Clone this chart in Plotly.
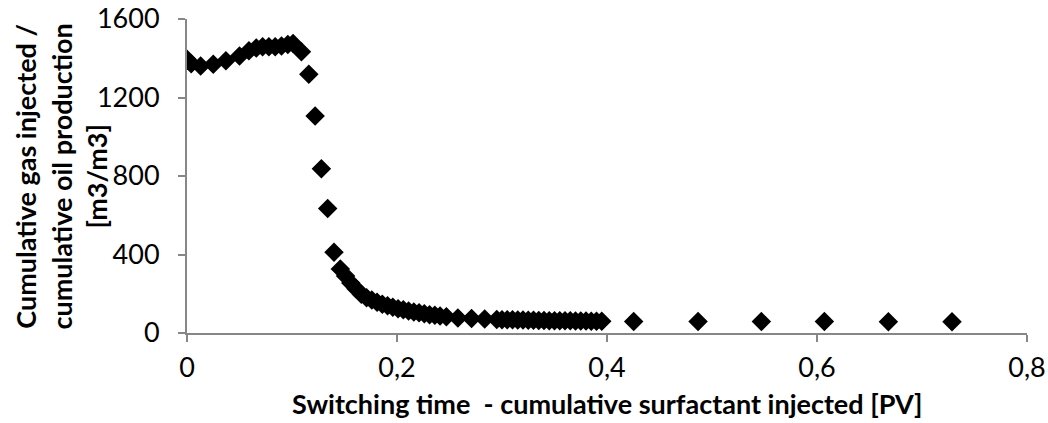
import plotly.graph_objects as go

# Switching time - cumulative surfactant injected [PV]
switch_time = [
    0.000, 0.004, 0.013, 0.025, 0.037, 0.050, 0.059, 0.066, 0.072, 0.078,
    0.084, 0.090, 0.096, 0.101, 0.109, 0.116, 0.122, 0.128, 0.134, 0.140,
    0.146, 0.151, 0.156, 0.161, 0.166, 0.171, 0.176, 0.181, 0.186, 0.191,
    0.196, 0.201, 0.206, 0.211, 0.216, 0.221, 0.226, 0.231, 0.236, 0.241,
    0.247, 0.258, 0.271, 0.2835, 0.295,
    0.300, 0.305, 0.310, 0.315, 0.320, 0.325, 0.330, 0.335, 0.340, 0.345,
    0.350, 0.355, 0.360, 0.365, 0.370, 0.375, 0.380, 0.385, 0.390, 0.395,
    0.4254, 0.4867, 0.547, 0.607, 0.668, 0.7286,
]
# Cumulative gas injected / cumulative oil production [m3/m3]
gas_oil_ratio = [
    1395, 1372, 1361, 1370, 1387, 1412, 1438, 1452, 1458, 1458,
    1458, 1462, 1470, 1475, 1433, 1319, 1106, 837, 634, 412,
    326, 290, 255, 225, 198, 180, 168, 157, 147, 139,
    131, 124, 118, 112, 107, 103, 98, 93, 90, 87,
    83, 77, 74, 71, 69,
    68, 67, 67, 66, 66, 65, 65, 64, 64, 63,
    63, 62, 62, 62, 61, 61, 61, 60, 60, 60,
    59, 58, 58, 58, 57, 57,
]

x_tickvals = [0, 0.2, 0.4, 0.6, 0.8]
x_ticktext = ["0", "0,2", "0,4", "0,6", "0,8"]
y_tickvals = [0, 400, 800, 1200, 1600]
y_ticktext = ["0", "400", "800", "1200", "1600"]

x_title = "Switching time  - cumulative surfactant injected [PV]"
y_title = "Cumulative gas injected /<br>cumulative oil production<br>[m3/m3]"

FONT = "Lato"
AXIS_COLOR = "#878787"
TICK_SIZE = 27
TITLE_SIZE = 27

fig = go.Figure(
    go.Scatter(
        x=switch_time,
        y=gas_oil_ratio,
        mode="markers",
        marker=dict(symbol="diamond", size=15, color="black", line=dict(width=0)),
        showlegend=False,
    )
)

fig.update_layout(
    width=1048,
    height=423,
    margin=dict(l=187, r=21, t=19, b=90),
    paper_bgcolor="white",
    plot_bgcolor="white",
    font=dict(family=FONT, color="black", size=TICK_SIZE),
    annotations=[
        dict(
            text=x_title, xref="paper", yref="paper", x=0.5, y=-0.223,
            xanchor="center", yanchor="middle", showarrow=False,
            font=dict(family=FONT, size=TITLE_SIZE, color="black", weight="bold"),
        ),
        dict(
            text=y_title, xref="paper", yref="paper", x=-0.1506, y=0.5,
            xanchor="center", yanchor="middle", showarrow=False, textangle=-90,
            font=dict(family=FONT, size=TITLE_SIZE, color="black", weight="bold"),
        ),
    ],
)

fig.update_xaxes(
    range=[0, 0.8],
    tickvals=x_tickvals,
    ticktext=x_ticktext,
    showgrid=False,
    zeroline=False,
    showline=True,
    linecolor=AXIS_COLOR,
    linewidth=2,
    ticks="outside",
    ticklen=7,
    tickwidth=2,
    tickcolor=AXIS_COLOR,
    ticklabelstandoff=3,
    ticklabeloverflow="allow",
    tickfont=dict(family=FONT, size=TICK_SIZE, color="black"),
    automargin=False,
)

fig.update_yaxes(
    range=[0, 1600],
    tickvals=y_tickvals,
    ticktext=y_ticktext,
    showgrid=False,
    zeroline=False,
    showline=True,
    linecolor=AXIS_COLOR,
    linewidth=2,
    ticks="outside",
    ticklen=7,
    tickwidth=2,
    tickcolor=AXIS_COLOR,
    ticklabelstandoff=13,
    ticklabeloverflow="allow",
    tickfont=dict(family=FONT, size=TICK_SIZE, color="black"),
    automargin=False,
)

fig.write_html(
    "out.html",
    config={"displayModeBar": False},
    post_script="document.body.style.margin='0';",
)
